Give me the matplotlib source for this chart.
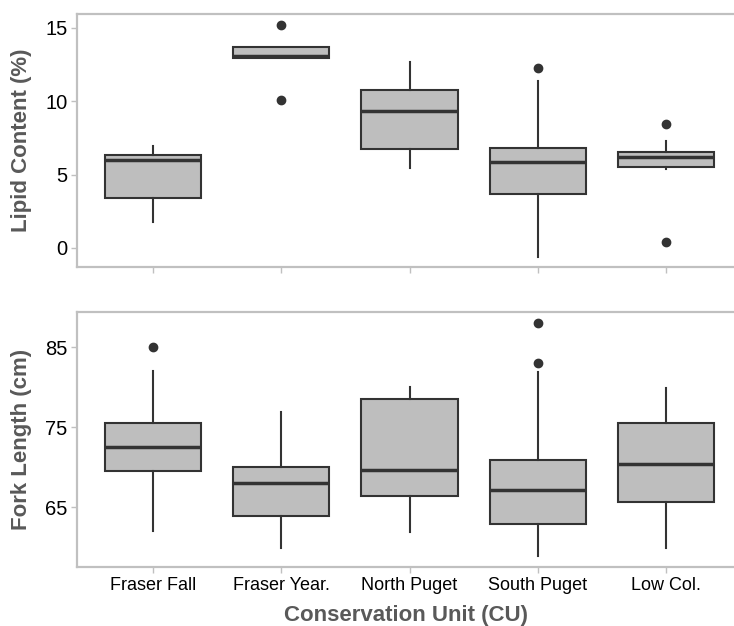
import matplotlib.pyplot as plt

plt.rcParams['font.family'] = ['Liberation Sans', 'DejaVu Sans']

# conservation units along the x axis
units = ['Fraser Fall', 'Fraser Year.', 'North Puget', 'South Puget', 'Low Col.']

# lipid content (%) summary per unit: whisker low, q1, median, q3, whisker high
lipid_whislo = [1.77, 12.95, 5.43, -0.59, 5.41]
lipid_q1 = [3.41, 12.95, 6.75, 3.68, 5.54]
lipid_med = [5.98, 13.09, 9.34, 5.84, 6.18]
lipid_q3 = [6.36, 13.68, 10.77, 6.82, 6.54]
lipid_whishi = [6.97, 13.68, 12.70, 11.36, 7.29]
lipid_fliers = [[], [15.22, 10.07], [], [12.25], [8.43, 0.39]]

# fork length (cm) summary per unit
fork_whislo = [62.0, 59.95, 61.95, 58.95, 59.95]
fork_q1 = [69.5, 63.87, 66.42, 62.91, 65.59]
fork_med = [72.5, 67.96, 69.64, 67.13, 70.45]
fork_q3 = [75.46, 69.96, 78.57, 70.93, 75.46]
fork_whishi = [82.0, 76.9, 80.0, 81.95, 79.95]
fork_fliers = [[85.0], [], [], [88.05, 83.04], []]


def make_stats(lo, q1, med, q3, hi, fl):
    return [dict(whislo=a, q1=b, med=c, q3=d, whishi=e, fliers=f)
            for a, b, c, d, e, f in zip(lo, q1, med, q3, hi, fl)]


W, H = 734, 626
fig = plt.figure(figsize=(W / 100, H / 100), dpi=100)
ax1 = fig.add_axes([77 / W, 1 - 267 / H, (734 - 77) / W, (267 - 14) / H])
ax2 = fig.add_axes([77 / W, 1 - 567 / H, (734 - 77) / W, (567 - 312) / H])

edge = '#333333'
grid_grey = '#c0c0c0'
label_grey = '#595959'


def draw(ax, stats):
    ax.bxp(stats, positions=range(1, 6), widths=0.75, patch_artist=True,
           showcaps=False,
           boxprops=dict(facecolor='#bebebe', edgecolor=edge, linewidth=1.5),
           medianprops=dict(color=edge, linewidth=2.5),
           whiskerprops=dict(color=edge, linewidth=1.5),
           flierprops=dict(marker='o', markerfacecolor=edge, markeredgecolor=edge,
                           markersize=6))
    ax.set_xlim(0.4074, 5.53)
    for side in ['left', 'top', 'bottom']:
        ax.spines[side].set_color(grid_grey)
        ax.spines[side].set_linewidth(1.6)
    ax.spines['right'].set_visible(False)
    ax.tick_params(axis='both', colors=grid_grey, length=4, width=1)
    ax.tick_params(axis='y', labelcolor='black', labelsize=14.5, pad=3)
    ax.tick_params(axis='x', labelcolor='black', labelsize=13, pad=3)


draw(ax1, make_stats(lipid_whislo, lipid_q1, lipid_med, lipid_q3, lipid_whishi, lipid_fliers))
ax1.set_ylim(-1.3, 15.95)
ax1.set_yticks([0, 5, 10, 15])
ax1.set_xticks(range(1, 6))
ax1.set_xticklabels([])
ax1.set_ylabel('Lipid Content (%)', fontsize=16, fontweight='bold', color=label_grey)

draw(ax2, make_stats(fork_whislo, fork_q1, fork_med, fork_q3, fork_whishi, fork_fliers))
ax2.set_ylim(57.52, 89.39)
ax2.set_yticks([65, 75, 85])
ax2.set_xticks(range(1, 6))
ax2.set_xticklabels(units)
ax2.set_ylabel('Fork Length (cm)', fontsize=16, fontweight='bold', color=label_grey)
ax2.set_xlabel('Conservation Unit (CU)', fontsize=16, fontweight='bold', color=label_grey,
               labelpad=8)

for ax in (ax1, ax2):
    ax.yaxis.set_label_coords(-45 / (734 - 77), 0.5)

fig.savefig('out.png', dpi=100)
